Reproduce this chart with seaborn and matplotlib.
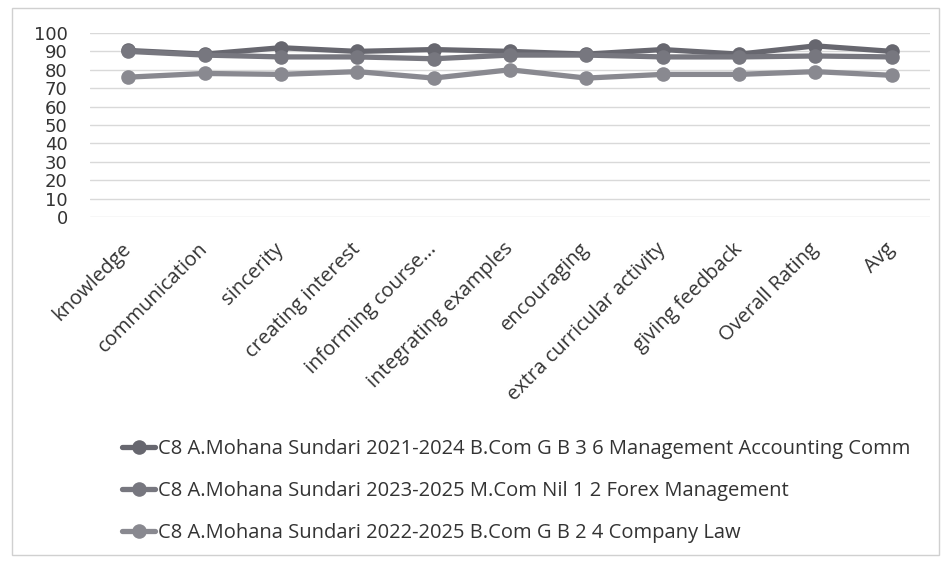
import matplotlib
matplotlib.use("Agg")
import matplotlib.pyplot as plt
import seaborn as sns
import pandas as pd
from matplotlib.patches import Rectangle

categories = ["knowledge", "communication", "sincerity", "creating interest",
              "informing course...", "integrating examples", "encouraging",
              "extra curricular activity", "giving feedback", "Overall Rating", "Avg"]

series_names = [
    "C8 A.Mohana Sundari 2021-2024 B.Com G B 3 6 Management Accounting Comm",
    "C8 A.Mohana Sundari 2023-2025 M.Com Nil 1 2 Forex Management",
    "C8 A.Mohana Sundari 2022-2025 B.Com G B 2 4 Company Law",
]
mgmt_acc = [90.5, 88.5, 92, 90, 91, 90, 88.5, 91, 88.5, 93, 90]
forex = [90, 88, 87, 87, 86, 88, 88, 87, 87, 87.5, 87]
company_law = [76, 78, 77.5, 79, 75.5, 80, 75.5, 77.5, 77.5, 79, 77]

colors = ["#67676f", "#77777f", "#898990"]

rows = []
for name, vals in zip(series_names, [mgmt_acc, forex, company_law]):
    for c, v in zip(categories, vals):
        rows.append({"category": c, "score": v, "series": name})
df = pd.DataFrame(rows)

sns.set_style("white")
plt.rcParams['font.family'] = ['Open Sans', 'DejaVu Sans']

fig = plt.figure(figsize=(9.44, 5.65), dpi=100)
ax = fig.add_axes([0.0953, 0.616, 0.8899, 0.3256])

sns.lineplot(data=df, x="category", y="score", hue="series", palette=colors,
             marker="o", markersize=10.5, linewidth=3.8, markeredgewidth=0,
             sort=False, ax=ax)

ax.set_ylim(0, 100)
ax.set_xlim(-0.5, len(categories) - 0.5)
ax.set_yticks(range(0, 101, 10))
ax.tick_params(axis="y", labelsize=13, colors="#333333", length=0, pad=16)
ax.tick_params(axis="x", labelsize=14.5, colors="#333333", length=0, pad=21)
ax.set_xticks(range(len(categories)))
ax.set_xticklabels(categories, rotation=45, ha="right", va="center", rotation_mode="anchor")
for lbl in ax.get_yticklabels():
    lbl.set_fontfamily(["DejaVu Sans"])
ax.yaxis.grid(True, color="#d9d9d9", linewidth=1)
ax.set_axisbelow(True)
for s in ax.spines.values():
    s.set_visible(False)
ax.set_xlabel("")
ax.set_ylabel("")

ax.legend(loc="upper left", bbox_to_anchor=(0.110, 0.255), bbox_transform=fig.transFigure,
          frameon=False, fontsize=14.5, labelcolor="#333333", handlelength=1.65,
          handletextpad=0.15, labelspacing=1.1)

fig.patches.append(Rectangle((0.013, 0.018), 0.982, 0.968, transform=fig.transFigure,
                             fill=False, edgecolor="#d0d0d0", linewidth=1))

fig.savefig("out.png", dpi=100)
